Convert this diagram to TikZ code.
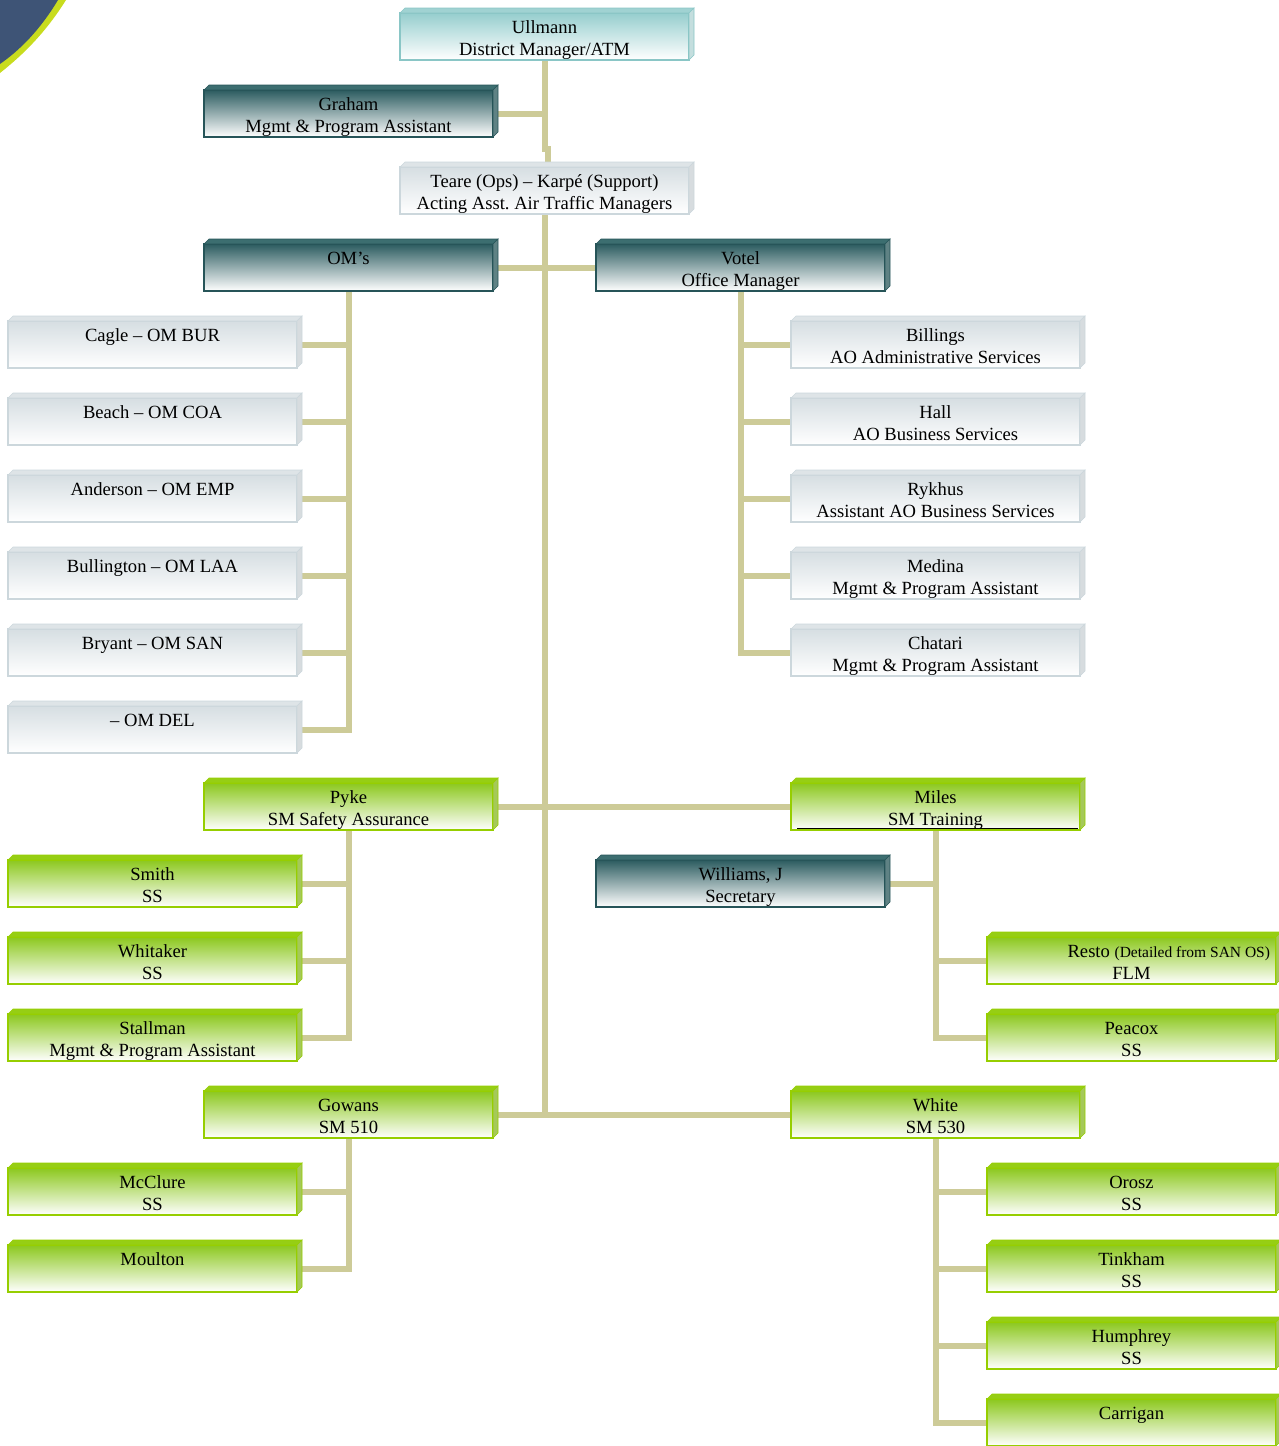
\documentclass[tikz,border=0pt]{standalone}
\usepackage{fontspec}
\setmainfont{Liberation Serif}
\frenchspacing
\pgfdeclarelayer{bg}
\pgfsetlayers{bg,main}
\definecolor{tealtop}{RGB}{150,206,206}
\definecolor{tealborder}{RGB}{138,198,198}
\definecolor{tealbev}{RGB}{160,210,210}
\definecolor{tealside}{RGB}{196,222,222}
\definecolor{darktop}{RGB}{44,92,96}
\definecolor{darkborder}{RGB}{38,84,88}
\definecolor{darkbev}{RGB}{60,110,112}
\definecolor{darkside}{RGB}{95,130,132}
\definecolor{greytop}{RGB}{214,222,226}
\definecolor{greyborder}{RGB}{204,215,220}
\definecolor{greybev}{RGB}{222,228,231}
\definecolor{greyside}{RGB}{215,220,223}
\definecolor{greentop}{RGB}{140,200,30}
\definecolor{greenborder}{RGB}{150,206,0}
\definecolor{greenbev}{RGB}{150,206,20}
\definecolor{greenside}{RGB}{165,200,90}
\definecolor{connc}{RGB}{205,203,152}
\definecolor{cornerblue}{RGB}{62,84,118}
\definecolor{cornerlime}{RGB}{200,220,30}
\tikzset{
  face/.style={minimum width=289pt, minimum height=47pt, inner sep=0pt, outer sep=0pt,
    draw=#1border, line width=1.2pt, top color=#1top, bottom color=white},
  txt/.style={font=\fontsize{18.6}{22}\selectfont, align=center, inner sep=0pt, outer sep=0pt},
  conn/.style={draw=connc, line width=6pt, line join=miter}
}
\newcommand\orgbox[6]{%
  \node[face=#2] (#1) at ({#3+144.5},{13+77*#4+23.5}) {};
  \filldraw[fill=#2bev, draw=#2border, line width=0.6pt] (#1.north west) -- ++(5,-5)
     -- ([shift={(5,-5)}]#1.north east) -- (#1.north east) -- cycle;
  \filldraw[fill=#2side, draw=#2border, line width=0.6pt] (#1.north east)
     -- ([shift={(5,-5)}]#1.north east) -- ([shift={(5,-5)}]#1.south east) -- (#1.south east) -- cycle;
  \node[txt, anchor=north] (#1t) at ([yshift=-4.6pt]#1.north) {\strut #5\\\strut #6};
}
\begin{document}
\begin{tikzpicture}[x=1pt,y=-1pt]
\useasboundingbox (0,0) rectangle (1278,1446);
% corner decoration
\fill[cornerlime] (0,0) -- (66,0) .. controls (46,32) and (24,54) .. (0,73) -- cycle;
\fill[cornerblue] (0,0) -- (58,0) .. controls (40,30) and (20,50) .. (0,64) -- cycle;
% boxes
\orgbox{ullmann}{teal}{400}{0}{Ullmann}{District Manager/ATM}
\orgbox{graham}{dark}{204}{1}{Graham}{Mgmt \& Program Assistant}
\orgbox{teare}{grey}{400}{2}{Teare (Ops) – Karpé (Support)}{Acting Asst. Air Traffic Managers}
\orgbox{oms}{dark}{204}{3}{OM’s}{}
\orgbox{votel}{dark}{596}{3}{Votel}{Office Manager}
\orgbox{cagle}{grey}{8}{4}{Cagle – OM BUR}{}
\orgbox{beach}{grey}{8}{5}{Beach – OM COA}{}
\orgbox{anderson}{grey}{8}{6}{Anderson – OM EMP}{}
\orgbox{bullington}{grey}{8}{7}{Bullington – OM LAA}{}
\orgbox{bryant}{grey}{8}{8}{Bryant – OM SAN}{}
\orgbox{del}{grey}{8}{9}{– OM DEL}{}
\orgbox{billings}{grey}{791}{4}{Billings}{AO Administrative Services}
\orgbox{hall}{grey}{791}{5}{Hall}{AO Business Services}
\orgbox{rykhus}{grey}{791}{6}{Rykhus}{Assistant AO Business Services}
\orgbox{medina}{grey}{791}{7}{Medina}{Mgmt \& Program Assistant}
\orgbox{chatari}{grey}{791}{8}{Chatari}{Mgmt \& Program Assistant}
\orgbox{pyke}{green}{204}{10}{Pyke}{SM Safety Assurance}
\orgbox{miles}{green}{791}{10}{Miles}{SM Training}
\draw[black, line width=1.6pt] ([shift={(6,-1.5)}]miles.south west) -- ([shift={(-2,-1.5)}]miles.south east);
\orgbox{smith}{green}{8}{11}{Smith}{SS}
\orgbox{whitaker}{green}{8}{12}{Whitaker}{SS}
\orgbox{stallman}{green}{8}{13}{Stallman}{Mgmt \& Program Assistant}
\orgbox{williams}{dark}{596}{11}{Williams, J}{Secretary}
\orgbox{resto}{green}{987}{12}{}{FLM}
\node[txt, anchor=base east] (restoname) at (1270,{13+77*12+20}) {Resto {\fontsize{15.5}{22}\selectfont (Detailed from SAN OS)}};
\orgbox{peacox}{green}{987}{13}{Peacox}{SS}
\orgbox{gowans}{green}{204}{14}{Gowans}{SM 510}
\orgbox{white}{green}{791}{14}{White}{SM 530}
\orgbox{mcclure}{green}{8}{15}{McClure}{SS}
\orgbox{moulton}{green}{8}{16}{Moulton}{}
\orgbox{orosz}{green}{987}{15}{Orosz}{SS}
\orgbox{tinkham}{green}{987}{16}{Tinkham}{SS}
\orgbox{humphrey}{green}{987}{17}{Humphrey}{SS}
\orgbox{carrigan}{green}{987}{18}{Carrigan}{}
% connectors
\coordinate (jog) at (548,149);
\begin{pgfonlayer}{bg}
\draw[conn] (ullmann.south) -- (ullmann.south |- jog) -- (jog) -- (jog |- teare.north);
\draw[conn] (graham.east) -- (graham.east -| ullmann.south);
\draw[conn] (teare.south) -- (teare.south |- gowans.east);
\draw[conn] (oms.east) -- (votel.west);
\draw[conn] (pyke.east) -- (miles.west);
\draw[conn] (gowans.east) -- (white.west);
\draw[conn] (oms.south) |- (del.east);
\foreach \c in {cagle,beach,anderson,bullington,bryant}
  \draw[conn] (oms.south |- \c.east) -- (\c.east);
\draw[conn] (votel.south) |- (chatari.west);
\foreach \c in {billings,hall,rykhus,medina}
  \draw[conn] (votel.south |- \c.west) -- (\c.west);
\draw[conn] (pyke.south) |- (stallman.east);
\foreach \c in {smith,whitaker}
  \draw[conn] (pyke.south |- \c.east) -- (\c.east);
\draw[conn] (miles.south) |- (peacox.west);
\draw[conn] (williams.east) -- (williams.east -| miles.south);
\draw[conn] (miles.south |- resto.west) -- (resto.west);
\draw[conn] (gowans.south) |- (moulton.east);
\draw[conn] (gowans.south |- mcclure.east) -- (mcclure.east);
\draw[conn] (white.south) |- (carrigan.west);
\foreach \c in {orosz,tinkham,humphrey}
  \draw[conn] (white.south |- \c.west) -- (\c.west);
\end{pgfonlayer}
\end{tikzpicture}
\end{document}
